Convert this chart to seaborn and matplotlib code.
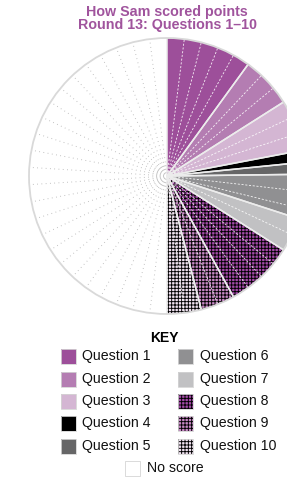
import numpy as np
import pandas as pd
import matplotlib
matplotlib.use("Agg")
import matplotlib.pyplot as plt
import seaborn as sns
from matplotlib.patches import Rectangle, Arc, Circle

# ---------------- data ----------------
questions = ["Question 1", "Question 2", "Question 3", "Question 4", "Question 5",
             "Question 6", "Question 7", "Question 8", "Question 9", "Question 10"]
points = [5, 3, 3, 0.7, 0.7, 2.6, 2, 4, 2, 2]
no_score_label = "No score"
no_score_points = 25
q_colors = ["#9d4f9a", "#b47db2", "#d4b6d3", "#000000", "#666667",
            "#909092", "#c1c1c3", "#a24aa6", "#c688c4", "#f0e2f0"]
q_hatched = [False, False, False, False, False, False, False, True, True, True]
title_lines = ["How Sam scored points", "Round 13: Questions 1\u201310"]
key_title = "KEY"

# ---------------- style ----------------
sns.set_theme(style="white")
plt.rcParams['font.family'] = ['Liberation Sans', 'DejaVu Sans']
plt.rcParams['hatch.linewidth'] = 0.65

W, H = 287, 478
fig = plt.figure(figsize=(W / 100, H / 100), dpi=100)
ax = fig.add_axes([0, 0, 1, 1])

df = pd.DataFrame({
    "label": questions + [no_score_label],
    "value": points + [no_score_points],
    "color": q_colors + ["none"],
    "hatched": q_hatched + [False],
})

wedges, _ = ax.pie(df["value"], startangle=90, counterclock=False, radius=1,
                   wedgeprops=dict(linewidth=0))

HATCH = "+" * 5
for w, (_, row) in zip(wedges, df.iterrows()):
    w.set_facecolor(row["color"])
    w.set_zorder(2)
    if row["hatched"]:
        w.set_hatch(HATCH)
        w.set_edgecolor("black")
        w.set_linewidth(0)


def ray(theta_deg, r0=0.0, r1=1.0, **kw):
    t = np.deg2rad(theta_deg)
    ax.plot([r0 * np.cos(t), r1 * np.cos(t)], [r0 * np.sin(t), r1 * np.sin(t)],
            solid_capstyle="butt", **kw)


# separators: one line per point inside each wedge
for w, (_, row) in zip(wedges, df.iterrows()):
    v = row["value"]
    step = (w.theta2 - w.theta1) / v
    n_inner = int(np.ceil(v)) - 1
    # clockwise pie: points run from theta2 downwards
    inner = [w.theta2 - step * k for k in range(1, n_inner + 1)]
    if row["label"] == no_score_label:
        for th in inner:
            ray(th, 0.1, 0.98, color="#b4b4b4", lw=0.7,
                linestyle=(0, (0.8, 3.6)), zorder=3)
    else:
        for th in inner:
            ray(th, 0.0, 1.0, color="white", lw=0.6,
                linestyle=(0, (2.5, 2.0)), alpha=0.9, zorder=3)
for w, (_, row) in zip(wedges, df.iterrows()):
    if row["label"] != no_score_label:
        for th in (w.theta1, w.theta2):
            ray(th, 0.0, 1.0, color="#ececec", lw=1.1, zorder=4)

# hub rings and outer edge
for r in (0.025, 0.05, 0.075):
    ax.add_patch(Arc((0, 0), 2 * r, 2 * r, theta1=90, theta2=270,
                     color="#bdbdbd", lw=0.6, zorder=1))
ax.add_patch(Circle((0, 0), 1, fill=False, ec="#d9d9d9", lw=1.3, zorder=5))

# place pie: centre at (167, 176) px, radius 138 px
cx, cy, R = 167, 176, 138
ax.set_aspect("auto")
ax.set_xlim(-cx / R, (W - cx) / R)
ax.set_ylim(-(H - cy) / R, cy / R)
ax.axis("off")


# ---------------- titles & key ----------------
def fx(x):
    return x / W


def fy(y):
    return 1 - y / H


title_color = "#a0549d"
fig.text(fx(167), fy(12), title_lines[0], ha="center", va="center",
         fontsize=10.3, fontweight="bold", color=title_color)
fig.text(fx(167), fy(24.5), title_lines[1], ha="center", va="center",
         fontsize=10.3, fontweight="bold", color=title_color)

fig.text(fx(164), fy(338), key_title, ha="center", va="center",
         fontsize=10, fontweight="bold", color="black")

row_y = [356, 379, 401, 423.5, 446]
col_sw_x = [61, 178]
col_tx_x = [82, 199.5]
SW = 15


def swatch(x, ycen, color, hatched):
    rect = Rectangle((fx(x), fy(ycen + SW / 2)), SW / W, SW / H,
                     transform=fig.transFigure, facecolor=color,
                     edgecolor="black" if hatched else "none", lw=0,
                     hatch=HATCH if hatched else None)
    fig.patches.append(rect)
    border = Rectangle((fx(x), fy(ycen + SW / 2)), SW / W, SW / H,
                       transform=fig.transFigure, fill=False,
                       edgecolor="#d4d4d4", lw=0.6)
    fig.patches.append(border)


for i, (q, c, h) in enumerate(zip(questions, q_colors, q_hatched)):
    col, r = divmod(i, 5)
    swatch(col_sw_x[col], row_y[r], c, h)
    fig.text(fx(col_tx_x[col]), fy(row_y[r]), q, ha="left", va="center",
             fontsize=10.2, color="#111111")

swatch(125, 468, "white", False)
fig.text(fx(147), fy(468), no_score_label, ha="left", va="center",
         fontsize=10.2, color="#111111")

fig.savefig("out.png", dpi=100)
